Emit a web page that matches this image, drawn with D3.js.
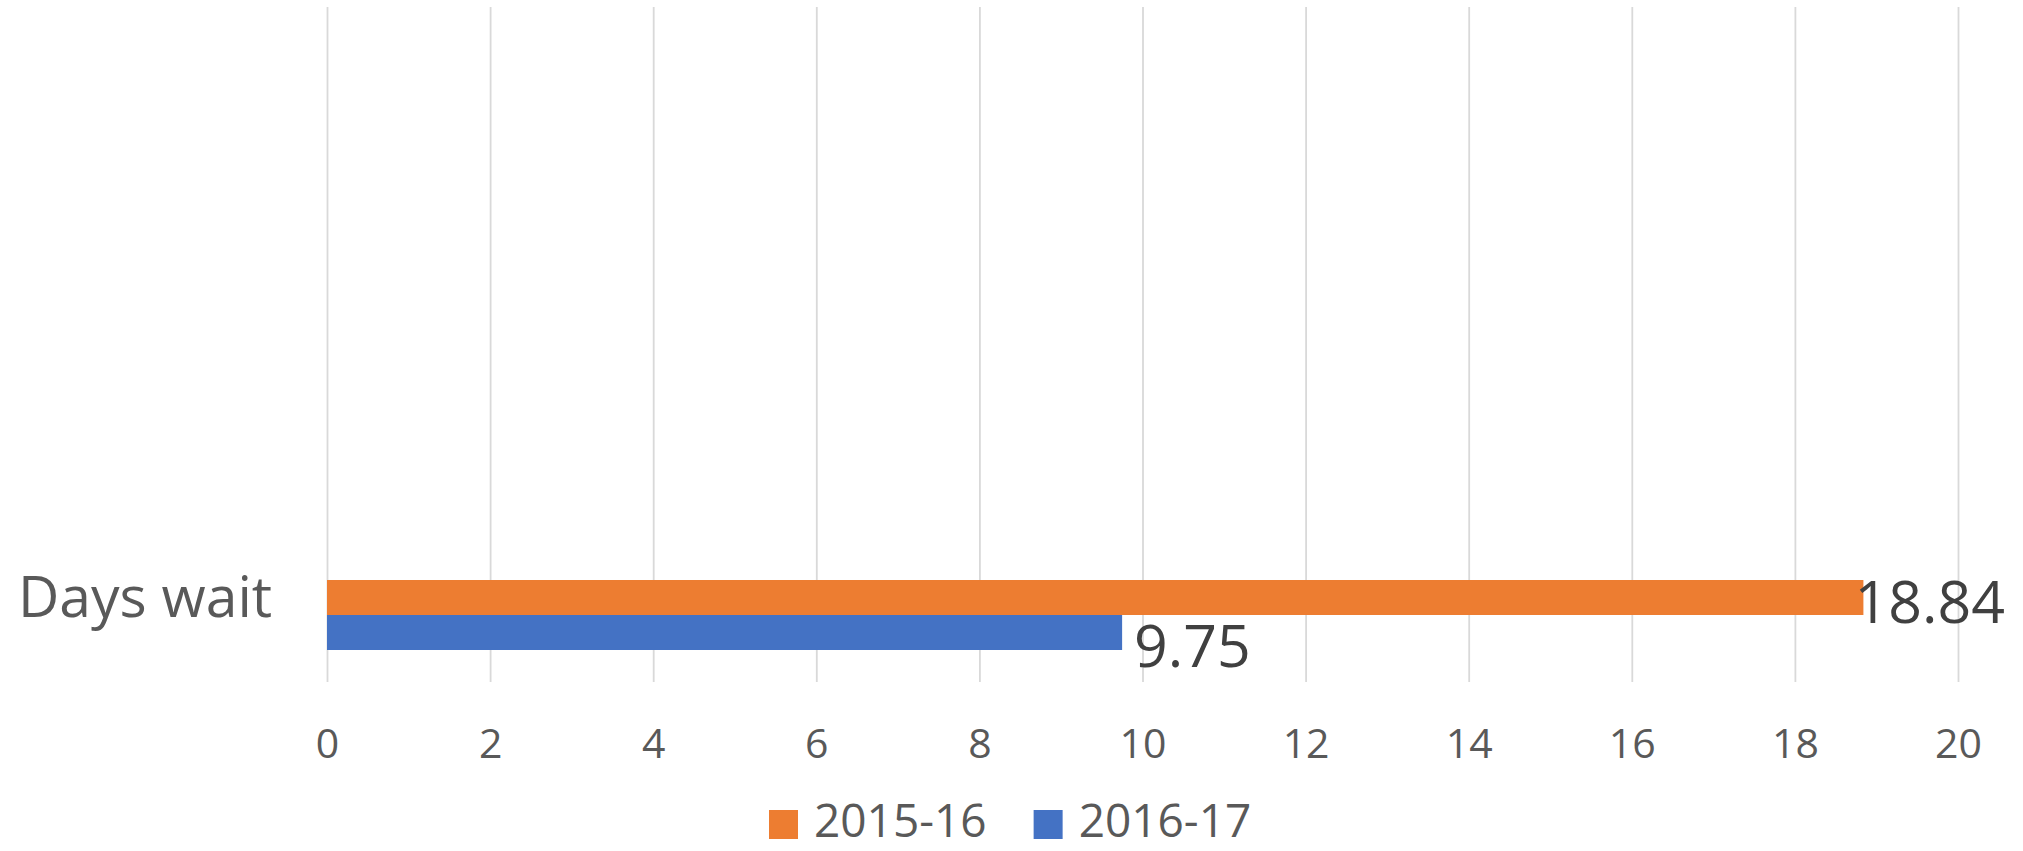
<!DOCTYPE html>
<html>
<head>
<meta charset="utf-8">
<script src="https://cdn.jsdelivr.net/npm/d3@7"></script>
<style>
  html, body { margin: 0; padding: 0; background: #fff; }
  svg { display: block; }
  text { font-family: "Open Sans", "Noto Sans", sans-serif; }
</style>
</head>
<body>
<svg id="chart" width="2023" height="851"></svg>
<script>
// ---- data ----
const categories = ["Days wait"];
const seriesNames = ["2015-16", "2016-17"];
const values2015_16 = [18.84];
const values2016_17 = [9.75];
const seriesColors = ["#ED7D31", "#4472C4"];
const xTicks = [0, 2, 4, 6, 8, 10, 12, 14, 16, 18, 20];

const seriesValues = [values2015_16, values2016_17];

// ---- layout ----
const W = 2023, H = 851;
const plot = { left: 327, right: 1958, top: 7, bottom: 682 };
const svg = d3.select("#chart");

const x = d3.scaleLinear().domain([0, 20]).range([plot.left, plot.right]);
const yCat = d3.scaleBand().domain(categories).range([580, 650]).padding(0);
const ySer = d3.scaleBand().domain(seriesNames).range([0, yCat.bandwidth()]).padding(0);

// gridlines
const xAxis = d3.axisBottom(x).tickValues(xTicks).tickSize(-(plot.bottom - plot.top)).tickFormat("");
const gGrid = svg.append("g").attr("transform", `translate(0,${plot.bottom})`).call(xAxis);
gGrid.select(".domain").remove();
gGrid.selectAll(".tick line").attr("stroke", "#D9D9D9").attr("stroke-width", 1.8);

// tick labels
const gTicks = svg.append("g").attr("transform", `translate(0,${plot.bottom})`)
  .call(d3.axisBottom(x).tickValues(xTicks).tickSize(0).tickPadding(0));
gTicks.select(".domain").remove();
gTicks.selectAll(".tick text")
  .attr("y", 76).attr("dy", 0)
  .attr("font-size", 41).attr("fill", "#595959")
  .attr("font-family", "'Open Sans', sans-serif");

// bars
seriesNames.forEach((s, si) => {
  svg.append("g").selectAll("rect")
    .data(categories.map((c, ci) => ({ c, v: seriesValues[si][ci] })))
    .join("rect")
    .attr("x", x(0))
    .attr("y", d => yCat(d.c) + ySer(s))
    .attr("width", d => x(d.v) - x(0))
    .attr("height", ySer.bandwidth())
    .attr("fill", seriesColors[si]);
});

// data labels
const labelDy = [25, 34];
seriesNames.forEach((s, si) => {
  categories.forEach((c, ci) => {
    const v = seriesValues[si][ci];
    const t = svg.append("text")
      .attr("font-size", 59).attr("fill", "#404040")
      .attr("y", yCat(c) + ySer(s) + ySer.bandwidth() / 2 + labelDy[si])
      .text(v.toFixed(2));
    let lx = x(v) + 12;
    const w = t.node().getComputedTextLength();
    if (lx + w > W - 18) lx = W - 18 - w;
    t.attr("x", lx);
  });
});

// category label
svg.append("g").selectAll("text").data(categories).join("text")
  .attr("x", 18).attr("y", 617)
  .attr("font-size", 57).attr("fill", "#595959")
  .text(d => d);

// legend
const legend = svg.append("g");
let lxPos = 769;
seriesNames.forEach((s, si) => {
  legend.append("rect").attr("x", lxPos).attr("y", 810).attr("width", 29).attr("height", 29)
    .attr("fill", seriesColors[si]);
  const t = legend.append("text").attr("x", lxPos + 45).attr("y", 837)
    .attr("font-size", 46).attr("fill", "#595959").text(s);
  lxPos = lxPos + 45 + t.node().getComputedTextLength() + 47;
});
</script>
</body>
</html>
